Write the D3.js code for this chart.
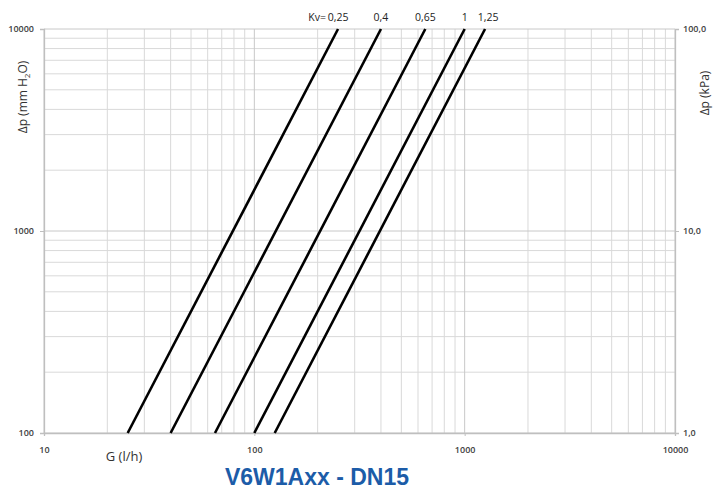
<!DOCTYPE html>
<html>
<head>
<meta charset="utf-8">
<script src="https://cdn.jsdelivr.net/npm/d3@7"></script>
<style>
  body { margin: 0; background: #fff; }
  svg { display: block; }
</style>
</head>
<body>
<div class="chart"></div>
<script>
// values
const kvLabels = ["0,25", "0,4", "0,65", "1", "1,25"];
const flowAtLow = [25, 40, 65, 100, 125];        // G (l/h) where the line meets 100 mm H2O
const flowAtHigh = [250, 400, 650, 1000, 1250];  // G (l/h) where the line meets 10000 mm H2O
const dpEnds = [100, 10000];
const xTicks = [10, 100, 1000, 10000];
const yTicks = [100, 1000, 10000];
const yRightLabels = ["1,0", "10,0", "100,0"];

const width = 713, height = 489;
const margin = {top: 29, right: 38, bottom: 56, left: 44};

const svg = d3.select(".chart")
  .append("svg")
  .attr("width", width)
  .attr("height", height);

const x = d3.scaleLog().domain([10, 10000]).range([margin.left, width - margin.right]);
const y = d3.scaleLog().domain([100, 10000]).range([height - margin.bottom, margin.top]);

// grid
let minorX = [], minorY = [];
[10, 100, 1000].forEach(d => { for (let k = 2; k <= 9; k++) minorX.push(d * k); });
[100, 1000].forEach(d => { for (let k = 2; k <= 9; k++) minorY.push(d * k); });

const grid = svg.append("g");
grid.selectAll(".vx").data(minorX).enter().append("line")
  .attr("x1", d => x(d)).attr("x2", d => x(d))
  .attr("y1", y(100)).attr("y2", y(10000))
  .attr("stroke", "#d9d9d9").attr("stroke-width", 1);
grid.selectAll(".hy").data(minorY).enter().append("line")
  .attr("y1", d => y(d)).attr("y2", d => y(d))
  .attr("x1", x(10)).attr("x2", x(10000))
  .attr("stroke", "#d9d9d9").attr("stroke-width", 1);
grid.selectAll(".mx").data(xTicks).enter().append("line")
  .attr("x1", d => x(d)).attr("x2", d => x(d))
  .attr("y1", y(100)).attr("y2", y(10000))
  .attr("stroke", "#c8c8c8").attr("stroke-width", 1);
grid.selectAll(".my").data(yTicks).enter().append("line")
  .attr("y1", d => y(d)).attr("y2", d => y(d))
  .attr("x1", x(10)).attr("x2", x(10000))
  .attr("stroke", "#c8c8c8").attr("stroke-width", 1);

// axes
const tickFont = "'Open Sans', sans-serif";
const xAxis = svg.append("g")
  .attr("transform", `translate(0, ${y(100)})`)
  .call(d3.axisBottom(x).tickValues(xTicks).tickFormat(d3.format("d")).tickSize(3).tickPadding(6));
const yAxis = svg.append("g")
  .attr("transform", `translate(${x(10)}, 0)`)
  .call(d3.axisLeft(y).tickValues(yTicks).tickFormat(d3.format("d")).tickSize(4).tickPadding(6));
const yAxisR = svg.append("g")
  .attr("transform", `translate(${x(10000)}, 0)`)
  .call(d3.axisRight(y).tickValues(yTicks).tickFormat((d, i) => yRightLabels[i]).tickSize(4).tickPadding(4));

[xAxis, yAxis, yAxisR].forEach(a => {
  a.select(".domain").attr("stroke", "#bfbfbf").attr("stroke-width", 1.3);
  a.selectAll(".tick line").attr("stroke", "#bfbfbf");
  a.selectAll(".tick text")
    .attr("font-family", tickFont).attr("font-size", 9).attr("font-weight", 600)
    .attr("fill", "#404040");
});
xAxis.selectAll(".tick text").attr("dy", "1.2em");

// Kv lines
const lines = svg.append("g");
kvLabels.forEach((lab, i) => {
  lines.append("line")
    .attr("x1", x(flowAtLow[i])).attr("y1", y(dpEnds[0]))
    .attr("x2", x(flowAtHigh[i])).attr("y2", y(dpEnds[1]))
    .attr("stroke", "#000").attr("stroke-width", 2.6);

  lines.append("text")
    .attr("x", x(flowAtHigh[i]) + (i === 4 ? 3 : 0))
    .attr("y", 21)
    .attr("text-anchor", "middle")
    .attr("font-family", tickFont).attr("font-size", 10.5)
    .attr("fill", "#222")
    .text(lab);
});
svg.append("text")
  .attr("x", x(flowAtHigh[0]) - 12).attr("y", 21)
  .attr("text-anchor", "end")
  .attr("font-family", tickFont).attr("font-size", 10.5)
  .attr("fill", "#222")
  .text("Kv=");

// axis titles
svg.append("text")
  .attr("transform", `translate(27, 97) rotate(-90)`)
  .attr("text-anchor", "middle")
  .attr("font-family", tickFont).attr("font-size", 12)
  .attr("fill", "#333")
  .html('Δp (mm H<tspan font-size="8" dy="3">2</tspan><tspan dy="-3">O)</tspan>');

// right title hugs the edge of the page
svg.append("text")
  .attr("transform", `translate(709, 93) rotate(-90)`)
  .attr("text-anchor", "middle")
  .attr("font-family", tickFont).attr("font-size", 12)
  .attr("fill", "#333")
  .text("Δp (kPa)");

svg.append("text")
  .attr("x", 124).attr("y", 461)
  .attr("text-anchor", "middle")
  .attr("font-family", tickFont).attr("font-size", 13)
  .attr("fill", "#333")
  .text("G (l/h)");

svg.append("text")
  .attr("x", 317).attr("y", 485)
  .attr("text-anchor", "middle")
  .attr("font-family", "'Liberation Sans', Arial, sans-serif")
  .attr("font-size", 23).attr("font-weight", 700)
  .attr("fill", "#1c5ca8")
  .text("V6W1Axx - DN15");
</script>
</body>
</html>
